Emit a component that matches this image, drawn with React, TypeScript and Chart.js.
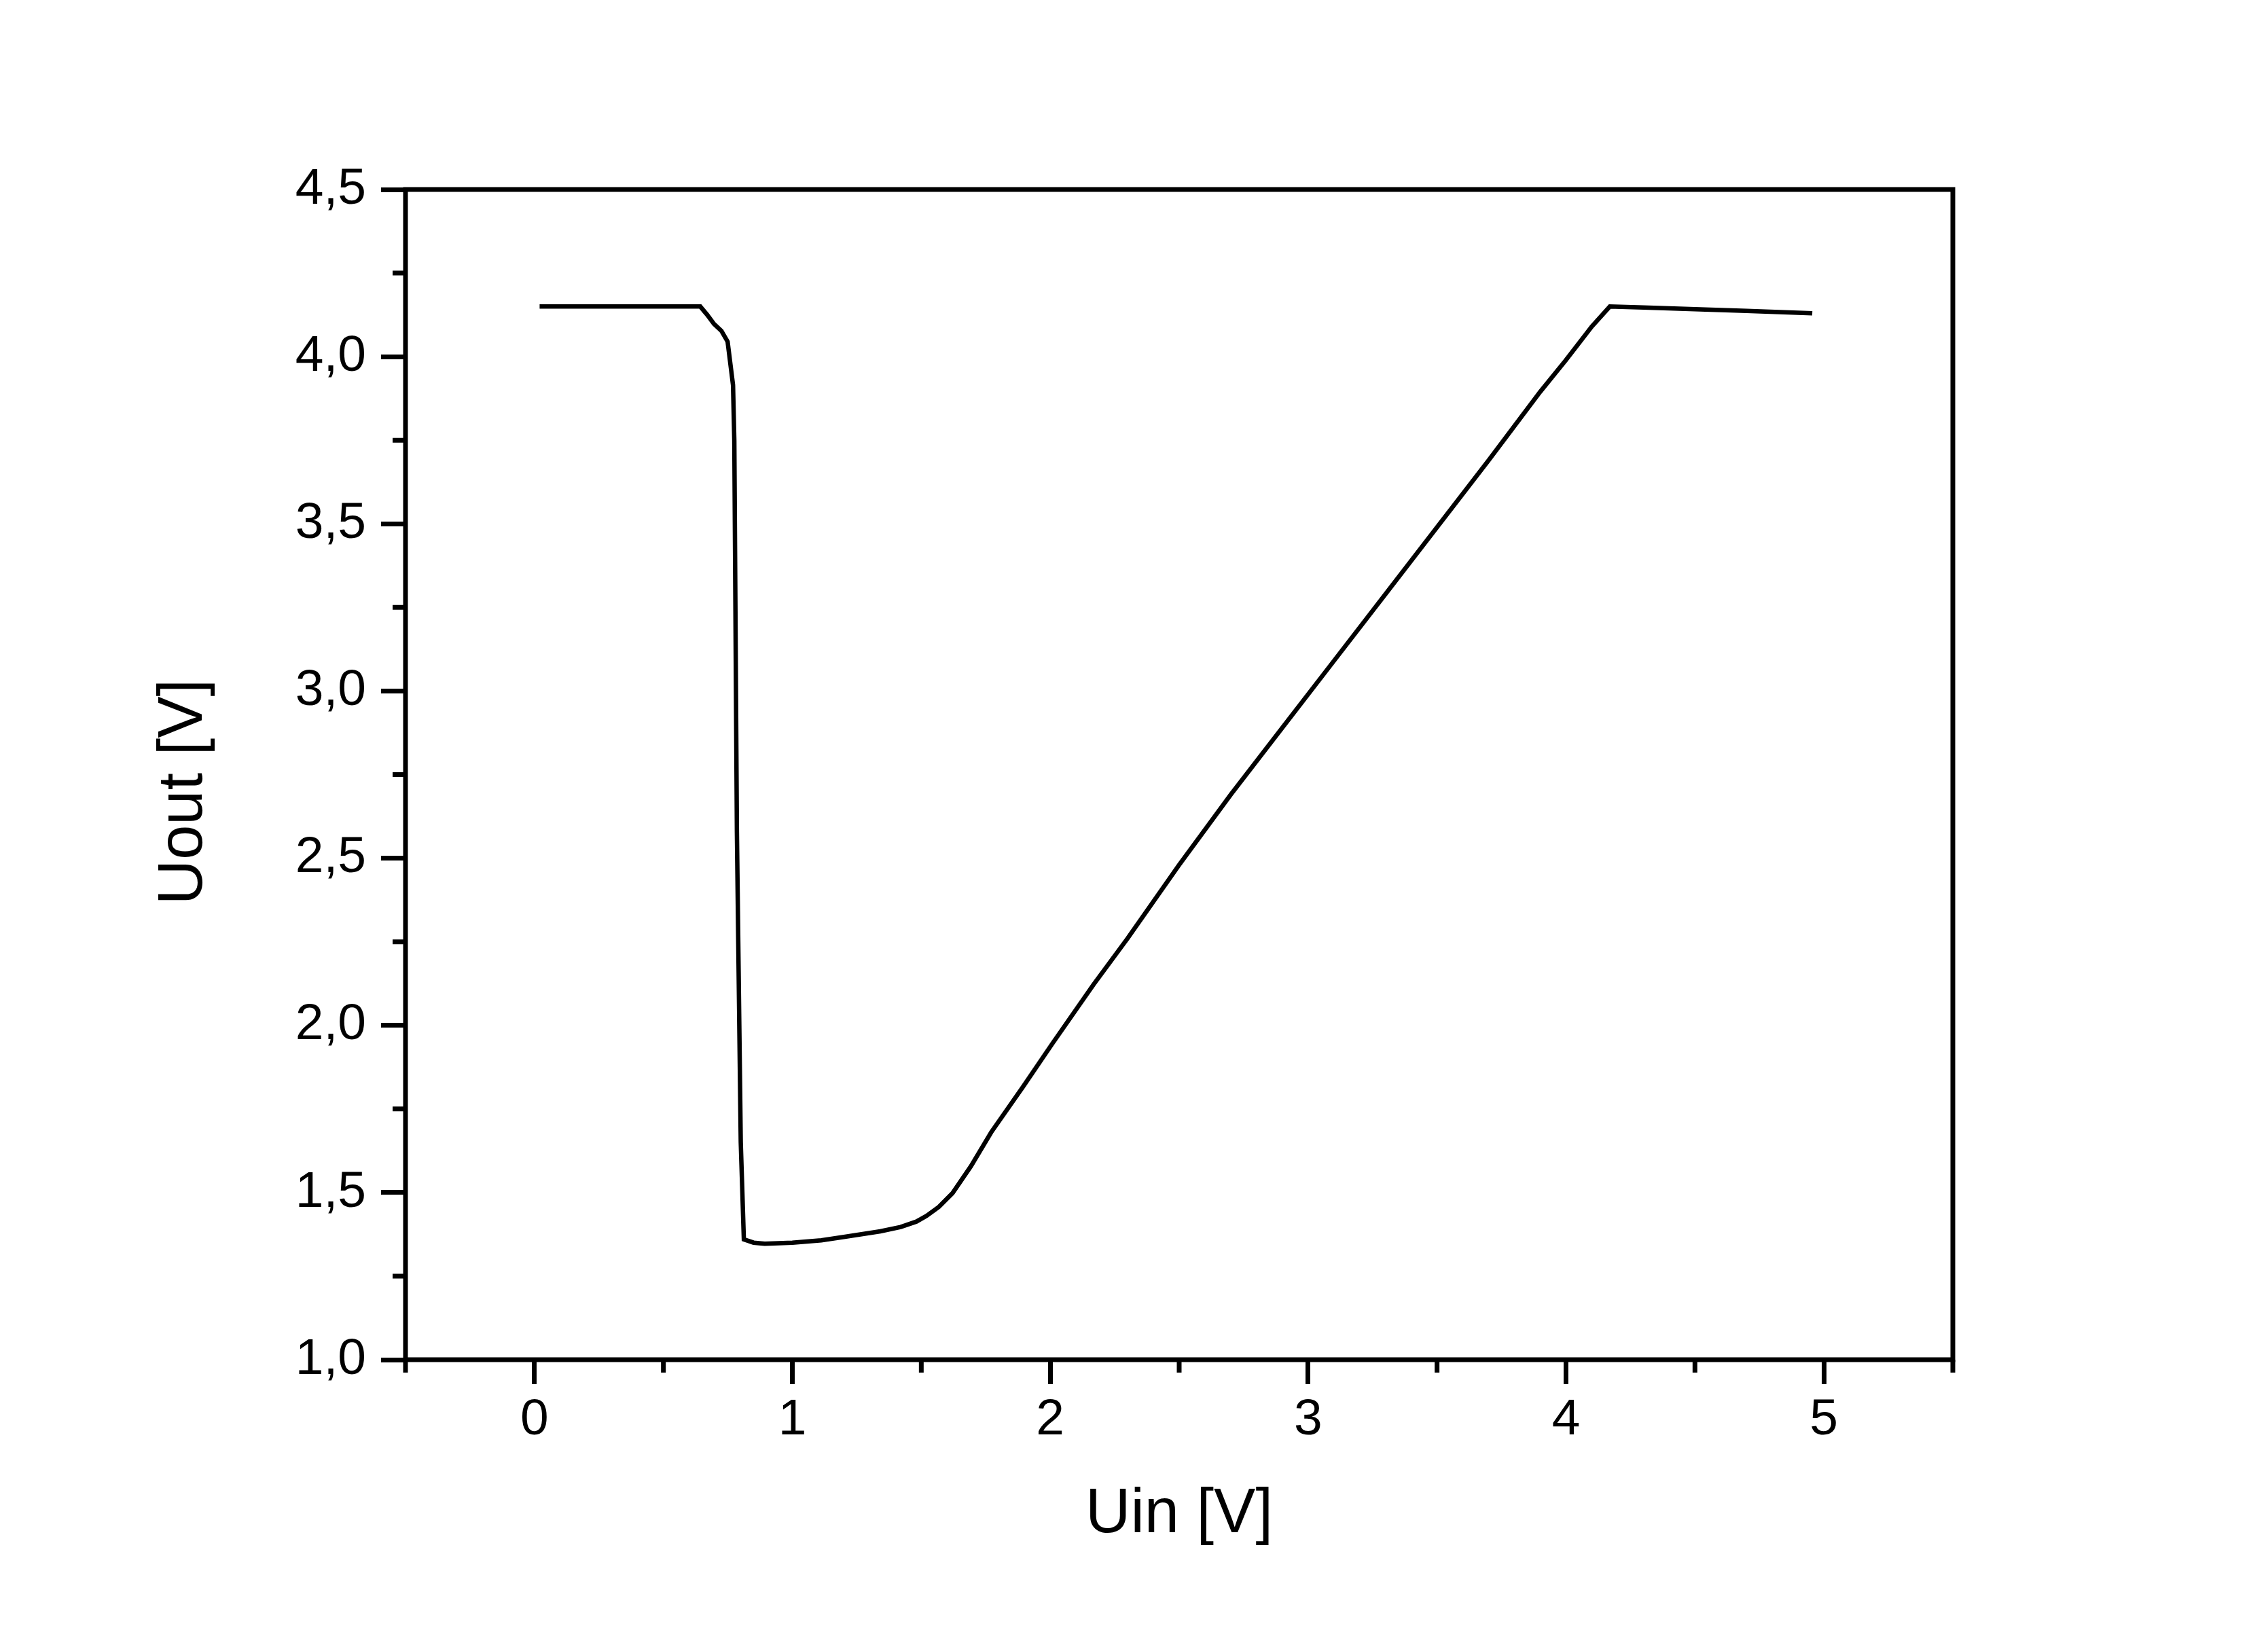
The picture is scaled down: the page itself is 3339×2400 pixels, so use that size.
import React, { useEffect, useRef } from "react";
import { Chart, registerables } from "chart.js";

Chart.register(...registerables);

// Transfer characteristic: Uout vs Uin
const uin = [
  0.02, 0.1, 0.2, 0.3, 0.4, 0.5, 0.6, 0.643, 0.67, 0.696, 0.725, 0.749, 0.77, 0.775,
  0.785, 0.8, 0.812, 0.85, 0.893, 1.0, 1.112, 1.2, 1.341, 1.42, 1.481, 1.52, 1.568,
  1.621, 1.692, 1.771, 1.895, 2.008, 2.167, 2.3, 2.5, 2.7, 2.9, 3.1, 3.3, 3.5, 3.7,
  3.9, 4.0, 4.1, 4.17, 4.3, 4.5, 4.7, 4.955,
];
const uout = [
  4.15, 4.15, 4.15, 4.15, 4.15, 4.15, 4.15, 4.15, 4.125, 4.098, 4.077, 4.045, 3.915, 3.75,
  2.58, 1.65, 1.36, 1.35, 1.347, 1.35, 1.357, 1.367, 1.384, 1.397, 1.413, 1.43, 1.457,
  1.498, 1.578, 1.68, 1.817, 1.945, 2.121, 2.26, 2.48, 2.69, 2.89, 3.09, 3.29, 3.49, 3.69,
  3.895, 3.99, 4.09, 4.15, 4.147, 4.142, 4.137, 4.13,
];

const xTickValues = [0, 1, 2, 3, 4, 5];
const xTickLabels = ["0", "1", "2", "3", "4", "5"];
const xMinorTicks = [-0.5, 0.5, 1.5, 2.5, 3.5, 4.5, 5.5];
const yTickValues = [1.0, 1.5, 2.0, 2.5, 3.0, 3.5, 4.0, 4.5];
const yTickLabels = ["1,0", "1,5", "2,0", "2,5", "3,0", "3,5", "4,0", "4,5"];
const yMinorTicks = [1.25, 1.75, 2.25, 2.75, 3.25, 3.75, 4.25];

const xTitle = "Uin [V]";
const yTitle = "Uout [V]  ";

const W = 3339;
const H = 2400;
const FONT = "'Liberation Sans', Arial, sans-serif";

const framePlugin = {
  id: "frameAndMinor",
  beforeDraw(chart: any) {
    const ctx = chart.ctx;
    ctx.save();
    ctx.fillStyle = "#ffffff";
    ctx.fillRect(0, 0, chart.width, chart.height);
    ctx.restore();
  },
  afterDraw(chart: any) {
    const ctx = chart.ctx;
    const { left, right, top, bottom } = chart.chartArea;
    const xs = chart.scales.x;
    const ys = chart.scales.y;
    ctx.save();
    ctx.strokeStyle = "#000";
    ctx.lineWidth = 7;
    ctx.lineCap = "butt";
    ctx.beginPath();
    for (const v of xMinorTicks) {
      const px = xs.getPixelForValue(v);
      ctx.moveTo(px, bottom);
      ctx.lineTo(px, bottom + 19);
    }
    for (const v of yMinorTicks) {
      const py = ys.getPixelForValue(v);
      ctx.moveTo(left, py);
      ctx.lineTo(left - 19, py);
    }
    ctx.stroke();
    ctx.lineWidth = 7;
    ctx.lineJoin = "miter";
    ctx.strokeRect(left, top, right - left, bottom - top);
    ctx.restore();
  },
};

export default function App() {
  const ref = useRef<HTMLCanvasElement | null>(null);

  useEffect(() => {
    document.body.style.margin = "0";
    const canvas = ref.current;
    if (!canvas) return;
    const chart = new Chart(canvas, {
      type: "scatter",
      data: {
        datasets: [
          {
            data: uin.map((x, i) => ({ x, y: uout[i] })),
            showLine: true,
            borderColor: "#000",
            borderWidth: 6.5,
            pointRadius: 0,
            tension: 0,
            fill: false,
          },
        ],
      },
      options: {
        animation: false,
        responsive: false,
        maintainAspectRatio: false,
        devicePixelRatio: 1,
        layout: { padding: { top: 279, right: 464, bottom: 0, left: 0 } },
        plugins: {
          legend: { display: false },
          tooltip: { enabled: false },
        },
        scales: {
          x: {
            type: "linear",
            min: -0.5,
            max: 5.5,
            afterBuildTicks: (scale: any) => {
              scale.ticks = xTickValues.map((v) => ({ value: v }));
            },
            afterFit: (scale: any) => {
              scale.height = 398;
            },
            ticks: {
              color: "#000",
              font: { family: FONT, size: 75 },
              padding: 8,
              maxRotation: 0,
              autoSkip: false,
              callback: (v: any) => {
                const i = xTickValues.indexOf(Number(v));
                return i >= 0 ? xTickLabels[i] : "";
              },
            },
            grid: {
              drawOnChartArea: false,
              drawTicks: true,
              tickLength: 36,
              tickWidth: 7,
              tickColor: "#000",
            },
            border: { display: false },
            title: {
              display: true,
              text: xTitle,
              color: "#000",
              font: { family: FONT, size: 92 },
              padding: { top: 0, bottom: 114 },
            },
          },
          y: {
            type: "linear",
            min: 1.0,
            max: 4.5,
            afterBuildTicks: (scale: any) => {
              scale.ticks = yTickValues.map((v) => ({ value: v }));
            },
            afterFit: (scale: any) => {
              scale.width = 597;
            },
            ticks: {
              color: "#000",
              font: { family: FONT, size: 75 },
              padding: 22,
              autoSkip: false,
              callback: (v: any) => {
                const i = yTickValues.findIndex((t) => Math.abs(t - Number(v)) < 1e-6);
                return i >= 0 ? yTickLabels[i] : "";
              },
            },
            grid: {
              drawOnChartArea: false,
              drawTicks: true,
              tickLength: 36,
              tickWidth: 7,
              tickColor: "#000",
            },
            border: { display: false },
            title: {
              display: true,
              text: yTitle,
              color: "#000",
              font: { family: FONT, size: 92 },
              padding: { top: 216, bottom: 0 },
            },
          },
        },
      },
      plugins: [framePlugin],
    });
    return () => chart.destroy();
  }, []);

  return (
    <div style={{ width: W, height: H, background: "#fff" }}>
      <canvas ref={ref} width={W} height={H} style={{ display: "block", width: W, height: H }} />
    </div>
  );
}
